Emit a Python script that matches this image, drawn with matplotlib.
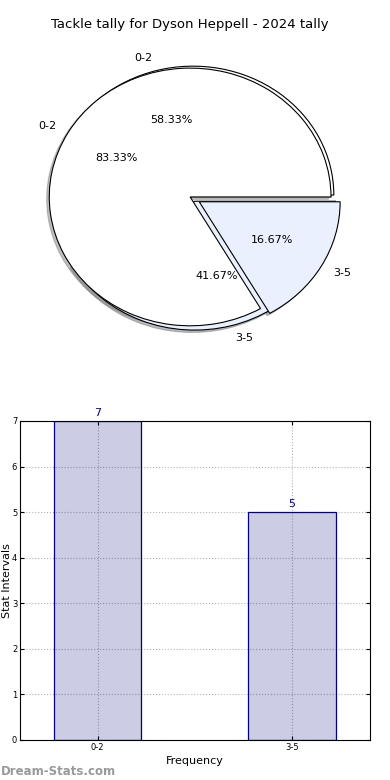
import matplotlib
matplotlib.use('Agg')
import matplotlib.pyplot as plt

# Dados do gráfico
titulo = 'Tackle tally for Dyson Heppell - 2024 tally'
intervalos = ['0-2', '3-5']
frequencia = [7, 5]
frequencia_outra = [10, 2]
cores = ['white', '#eaf0fd']

fig = plt.figure(figsize=(3.9, 7.8), dpi=100)

# Pizza (duas sobrepostas, como no original)
sombra = {'ox': -0.013, 'oy': -0.013, 'shade': 0.5}
ax1 = fig.add_axes([0.036, 0.541, 0.903, 0.413])
ax1.pie(frequencia, labels=intervalos, colors=cores, autopct='%1.2f%%',
        explode=(0, 0.05), shadow=sombra, center=(0.02, 0.015),
        wedgeprops={'linewidth': 0.8, 'edgecolor': 'black'},
        textprops={'fontsize': 8})
ax1.pie(frequencia_outra, labels=intervalos, colors=cores, autopct='%1.2f%%',
        explode=(0, 0.075), shadow=sombra,
        wedgeprops={'linewidth': 0.8, 'edgecolor': 'black'},
        textprops={'fontsize': 8})
ax1.set_aspect('auto')
ax1.set_xlim(-1.25, 1.25)
ax1.set_ylim(-1.25, 1.25)
ax1.set_title(titulo, fontsize=9.5, pad=6)

# Barras
ax2 = fig.add_axes([0.0513, 0.0513, 0.897, 0.409])
pos = range(len(intervalos))
ax2.bar(pos, frequencia, width=0.45, color='navy', alpha=0.2)
ax2.bar(pos, frequencia, width=0.45, fill=False, edgecolor='navy', linewidth=0.9)
for x, v in zip(pos, frequencia):
    ax2.text(x, v + 0.06, str(v), ha='center', va='bottom', color='navy', fontsize=8)
ax2.set_xlim(-0.4, 1.4)
ax2.set_ylim(0, 7)
ax2.set_xticks(list(pos))
ax2.set_xticklabels(intervalos)
ax2.tick_params(labelsize=6, direction='in', top=True, right=True, length=3, pad=2)
ax2.grid(True, linestyle=':', color='gray', linewidth=0.8, alpha=0.6)
ax2.set_axisbelow(True)
ax2.set_xlabel('Frequency', fontsize=8, labelpad=3)
ax2.set_ylabel('Stat Intervals', fontsize=8, labelpad=0)

fig.text(0.002, 0.003, 'Dream-Stats.com', color='#999999', fontsize=8.5,
         fontweight='bold', ha='left', va='bottom')

fig.savefig('out.png', dpi=100)
